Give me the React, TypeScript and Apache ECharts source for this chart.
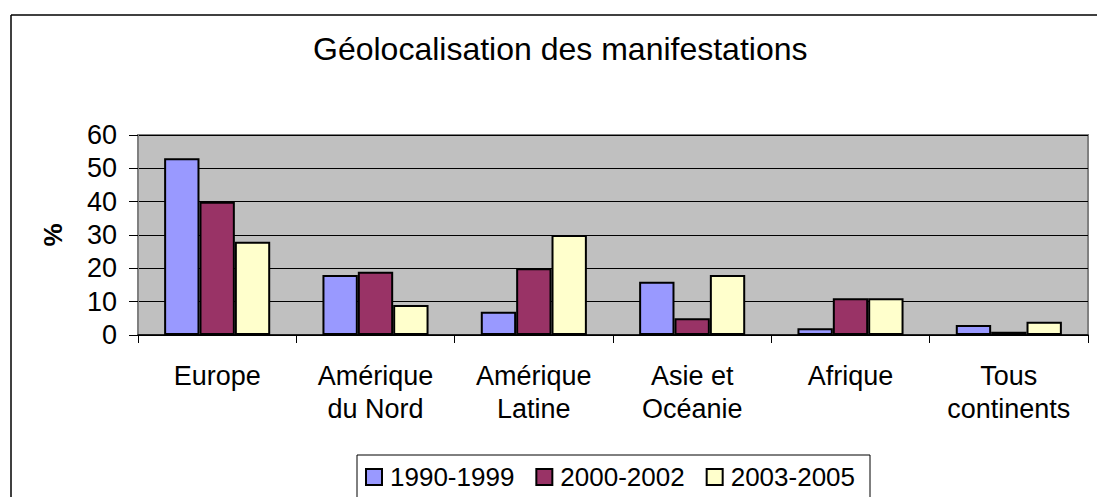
import React, { useEffect, useRef } from "react";
import * as echarts from "echarts";

const categories = ["Europe", "Amérique\ndu Nord", "Amérique\nLatine", "Asie et\nOcéanie", "Afrique", "Tous\ncontinents"];
const seriesNames = ["1990-1999", "2000-2002", "2003-2005"];
const s1990 = [53, 18, 7, 16, 2, 3];
const s2000 = [40, 19, 20, 5, 11, 1];
const s2003 = [28, 9, 30, 18, 11, 4];
const colors = ["#9999FF", "#993366", "#FFFFCC"];
const yTicks = { min: 0, max: 60, interval: 10 };

const FONT = "'Liberation Sans', Arial, Helvetica, sans-serif";

export default function App() {
  const ref = useRef<HTMLDivElement>(null);
  useEffect(() => {
    if (!ref.current) return;
    const chart = echarts.init(ref.current, null, { renderer: "svg" });
    const data = [s1990, s2000, s2003];
    chart.setOption({
      animation: false,
      backgroundColor: "#ffffff",
      textStyle: { fontFamily: FONT, color: "#000" },
      title: {
        text: "Géolocalisation des manifestations",
        left: 313,
        top: 33,
        padding: 0,
        textStyle: { fontFamily: FONT, fontSize: 32, fontWeight: "normal", color: "#000" },
      },
      graphic: [
        {
          type: "line",
          shape: { x1: 11, y1: 15, x2: 11, y2: 497 },
          style: { stroke: "#000", lineWidth: 1.5 },
          silent: true,
        },
        {
          type: "line",
          shape: { x1: 11, y1: 15, x2: 1097, y2: 15 },
          style: { stroke: "#000", lineWidth: 1.5 },
          silent: true,
        },
      ],
      legend: {
        left: 357,
        top: 455,
        padding: [9, 15, 40, 8],
        borderColor: "#000",
        borderWidth: 1,
        itemWidth: 16,
        itemHeight: 16,
        itemGap: 21,
        icon: "rect",
        data: seriesNames,
        textStyle: { fontFamily: FONT, fontSize: 26, color: "#000", padding: [0, 0, 0, 3] },
      },
      grid: {
        left: 138,
        top: 135,
        right: 9,
        bottom: 162,
        show: true,
        backgroundColor: "#C0C0C0",
        borderColor: "#808080",
        borderWidth: 2,
      },
      xAxis: {
        type: "category",
        data: categories,
        boundaryGap: true,
        axisLine: { lineStyle: { color: "#000", width: 1.5 } },
        axisTick: { show: true, length: 8, alignWithLabel: false, lineStyle: { color: "#000" } },
        axisLabel: {
          interval: 0,
          margin: 24,
          fontFamily: FONT,
          fontSize: 27,
          lineHeight: 33,
          color: "#000",
        },
      },
      yAxis: {
        type: "value",
        min: yTicks.min,
        max: yTicks.max,
        interval: yTicks.interval,
        name: "%",
        nameLocation: "middle",
        nameRotate: 90,
        nameGap: 72,
        nameTextStyle: { fontFamily: FONT, fontSize: 26, fontWeight: "bold", color: "#000" },
        axisLine: { show: true, lineStyle: { color: "#808080", width: 2 } },
        axisTick: { show: true, length: 9, lineStyle: { color: "#000" } },
        axisLabel: { margin: 21, fontFamily: FONT, fontSize: 27, color: "#000" },
        splitLine: { show: true, lineStyle: { color: "#000", width: 1 } },
      },
      series: seriesNames.map((name, i) => ({
        name,
        type: "bar",
        data: data[i],
        barGap: "0%",
        barCategoryGap: "33%",
        itemStyle: { color: colors[i], borderColor: "#000", borderWidth: 2 },
      })),
    });
    return () => chart.dispose();
  }, []);
  return (
    <div
      ref={ref}
      style={{ position: "fixed", left: 0, top: 0, width: 1097, height: 497 }}
    />
  );
}
